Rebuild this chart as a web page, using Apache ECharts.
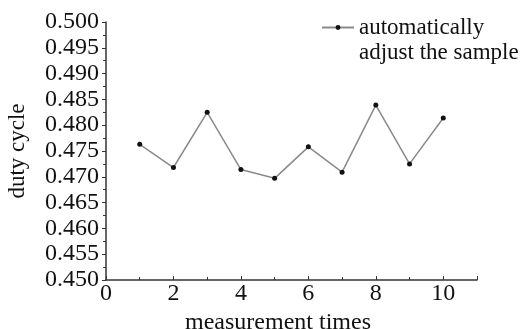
<!DOCTYPE html>
<html>
<head>
<meta charset="utf-8">
<script src="https://cdn.jsdelivr.net/npm/echarts@6/dist/echarts.min.js"></script>
<style>
  html, body { margin: 0; padding: 0; background: #fff; }
  #chart { width: 524px; height: 329px; }
</style>
</head>
<body>
<div id="chart"></div>
<script>
// measurement index and duty cycle readings
const times = [1, 2, 3, 4, 5, 6, 7, 8, 9, 10]
const dutyCycle = [0.4763, 0.4718, 0.4825, 0.4714, 0.4697, 0.4758, 0.4709, 0.4839, 0.4725, 0.4814]
const seriesName = 'automatically adjust the sample'

const chart = echarts.init(document.getElementById('chart'))
const font = '"Liberation Serif", "Times New Roman", serif'

const option = {
  animation: false,
  backgroundColor: '#fff',
  textStyle: { fontFamily: font },
  grid: { left: 106, right: 47, top: 22, bottom: 49, outerBoundsMode: 'none' },
  legend: {
    data: [seriesName],
    left: 316,
    top: -15,
    itemWidth: 32,
    itemHeight: 6,
    itemGap: 4,
    // blank first line keeps the icon level with "automatically"
    formatter: () => ' \nautomatically\nadjust the sample',
    textStyle: {
      fontFamily: font,
      fontSize: 23,
      color: '#111',
      lineHeight: 25
    }
  },
  xAxis: {
    type: 'value',
    min: 0,
    max: 11,
    interval: 2,
    name: 'measurement times',
    nameLocation: 'middle',
    nameGap: 31,
    nameTextStyle: { fontFamily: font, fontSize: 24, color: '#111', padding: [0, 27, 0, 0] },
    splitLine: { show: false },
    axisLine: { lineStyle: { color: '#333', width: 1.5 } },
    axisTick: { inside: true, length: 4, lineStyle: { color: '#333' } },
    minorTick: { show: true, splitNumber: 2, length: 3, lineStyle: { color: '#333' } },
    axisLabel: { fontFamily: font, fontSize: 24, color: '#111', margin: 2, showMaxLabel: false }
  },
  yAxis: {
    type: 'value',
    min: 0.45,
    max: 0.5,
    interval: 0.005,
    name: 'duty cycle',
    nameLocation: 'middle',
    nameGap: 77,
    nameTextStyle: { fontFamily: font, fontSize: 23, color: '#111' },
    splitLine: { show: false },
    axisLine: { show: true, lineStyle: { color: '#333', width: 1.5 } },
    axisTick: { show: true, length: 4, lineStyle: { color: '#333' } },
    minorTick: { show: true, splitNumber: 2, length: 3, lineStyle: { color: '#333' } },
    axisLabel: {
      fontFamily: font,
      fontSize: 24,
      color: '#111',
      margin: 7,
      formatter: v => v.toFixed(3)
    }
  },
  series: [{
    name: seriesName,
    type: 'line',
    data: times.map((t, i) => [t, dutyCycle[i]]),
    symbol: 'circle',
    symbolSize: 5,
    itemStyle: { color: '#111' },
    lineStyle: { color: '#8a8a8a', width: 1.5 }
  }]
}

chart.setOption(option)
</script>
</body>
</html>
